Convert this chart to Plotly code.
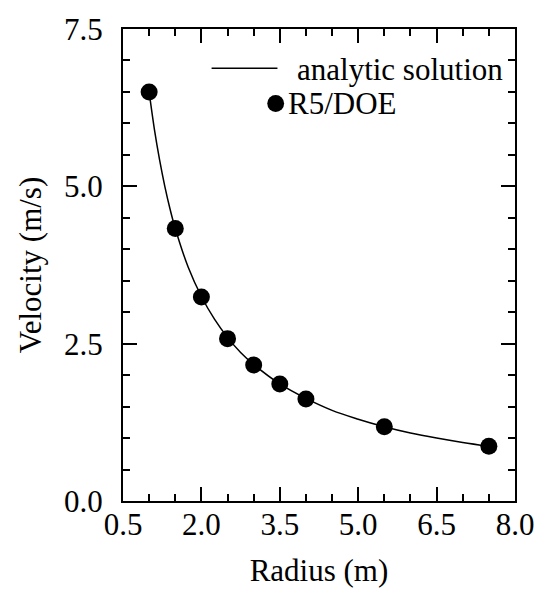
import plotly.graph_objects as go

# Data
radius_pts = [1.0, 1.5, 2.0, 2.5, 3.0, 3.5, 4.0, 5.5, 7.5]
velocity_pts = [6.50, 4.33, 3.24, 2.58, 2.16, 1.86, 1.62, 1.18, 0.87]

radius_curve = [1.0, 1.1, 1.2, 1.3, 1.4, 1.5, 1.75, 2.0, 2.25, 2.5, 2.75, 3.0, 3.5, 4.0, 4.5, 5.0, 5.5, 6.0, 6.5, 7.0, 7.5]
velocity_curve = [6.50, 5.91, 5.42, 5.00, 4.64, 4.33, 3.71, 3.25, 2.89, 2.60, 2.36, 2.17, 1.86, 1.63, 1.44, 1.30, 1.18, 1.08, 1.00, 0.93, 0.87]

x_ticks = [0.5, 2.0, 3.5, 5.0, 6.5, 8.0]
x_ticklabels = ["0.5", "2.0", "3.5", "5.0", "6.5", "8.0"]
y_ticks = [0.0, 2.5, 5.0, 7.5]
y_ticklabels = ["0.0", "2.5", "5.0", "7.5"]

FONT = "Times New Roman"
FS = 31

fig = go.Figure()
fig.add_trace(go.Scatter(x=radius_curve, y=velocity_curve, mode="lines",
                         line=dict(color="black", width=1.5, shape="spline"),
                         name="analytic solution", showlegend=False))
fig.add_trace(go.Scatter(x=radius_pts, y=velocity_pts, mode="markers",
                         marker=dict(color="black", size=17),
                         name="R5/DOE", showlegend=False))

fig.update_xaxes(range=[0.5, 8.0], tickvals=x_ticks, ticktext=x_ticklabels,
                 showline=True, linecolor="black", linewidth=2, mirror="ticks",
                 ticks="inside", ticklen=14, tickwidth=2, tickcolor="black",
                 showgrid=False, zeroline=False,
                 tickfont=dict(family=FONT, size=FS, color="black"),
                 minor=dict(dtick=0.5, tick0=0.5, ticks="inside", ticklen=7, tickwidth=1.5, tickcolor="black"),
                 title=dict(text="Radius (m)", font=dict(family=FONT, size=FS, color="black"), standoff=18),
                 ticklabelstandoff=-5)
fig.update_yaxes(range=[0.0, 7.5], tickvals=y_ticks, ticktext=y_ticklabels,
                 showline=True, linecolor="black", linewidth=2, mirror="ticks",
                 ticks="inside", ticklen=14, tickwidth=2, tickcolor="black",
                 showgrid=False, zeroline=False,
                 tickfont=dict(family=FONT, size=FS, color="black"),
                 minor=dict(dtick=0.5, tick0=0, ticks="inside", ticklen=7, tickwidth=1.5, tickcolor="black"),
                 title=dict(text="Velocity (m/s)", font=dict(family=FONT, size=FS, color="black"), standoff=13),
                 ticklabelstandoff=12)

# Manual legend
fig.add_shape(type="line", xref="paper", yref="paper", x0=0.226, x1=0.394, y0=0.917, y1=0.917,
              line=dict(color="black", width=1.5))
fig.add_annotation(xref="paper", yref="paper", x=0.44, y=0.915, xanchor="left", yanchor="middle",
                   text="analytic solution", showarrow=False,
                   font=dict(family=FONT, size=FS, color="black"))
fig.add_shape(type="circle", xref="paper", yref="paper", x0=0.368, x1=0.411, y0=0.824, y1=0.860,
              fillcolor="black", line=dict(color="black", width=0))
fig.add_annotation(xref="paper", yref="paper", x=0.415, y=0.842, xanchor="left", yanchor="middle",
                   text="R5/DOE", showarrow=False,
                   font=dict(family=FONT, size=FS, color="black"))

fig.update_layout(width=546, height=594, margin=dict(l=123, r=25, t=21, b=91),
                  plot_bgcolor="white", paper_bgcolor="white", showlegend=False,
                  font=dict(family=FONT, size=FS, color="black"))

fig.write_html("out.html")
